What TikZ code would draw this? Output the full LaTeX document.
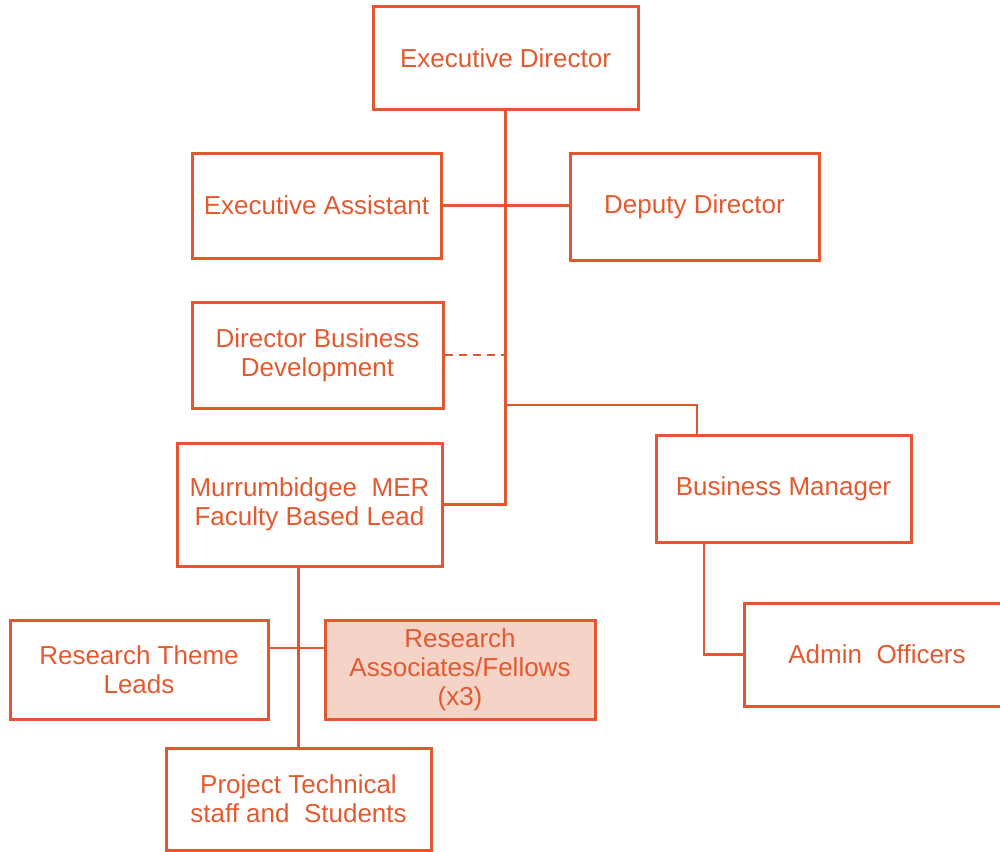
\documentclass[tikz,border=0pt]{standalone}
\usepackage{fontspec}
\setmainfont{Liberation Sans}
\definecolor{org}{HTML}{E4572E}
\definecolor{orgtext}{HTML}{E25A30}
\definecolor{rafill}{HTML}{F6D3C7}
\begin{document}
\begin{tikzpicture}[x=1pt,y=-1pt,
  box/.style={draw=org, line width=3pt, fill=white, text=orgtext, align=center,
    inner sep=0pt, font=\fontsize{26}{29}\selectfont},
  link/.style={draw=org, line width=2.6pt},
  dashlink/.style={link, dash pattern=on 8pt off 6pt}]
\useasboundingbox (0,0) rectangle (1000,851);
\begin{scope}
\clip (0,0) rectangle (1000,851);
\node[box, minimum width=265pt, minimum height=102pt] (ED) at (505.5,58) {Executive Director};
\node[box, minimum width=249pt, minimum height=105pt] (EA) at (316.5,205.5) {Executive Assistant};
\node[box, minimum width=249pt, minimum height=107pt] (DD) at (694.5,206.5) {Deputy Director};
\node[box, minimum width=251pt, minimum height=106pt] (DBD) at (317.5,355) {Director Business\\Development};
\node[box, minimum width=265pt, minimum height=123pt] (M) at (309.5,504.5) {Murrumbidgee\ \ MER\\Faculty Based Lead};
\node[box, minimum width=255pt, minimum height=107pt] (BM) at (783.5,488.5) {Business Manager};
\node[box, minimum width=258pt, minimum height=99pt] (RTL) at (139,669.5) {Research Theme\\Leads};
\node[box, fill=rafill, minimum width=270pt, minimum height=99pt] (RA) at (460,669.5) {Research\\Associates/Fellows\\(x3)};
\node[box, minimum width=265pt, minimum height=102pt] (PT) at (298.5,799) {Project Technical\\staff and\ \ Students};
\node[box, minimum width=266pt, minimum height=103pt] (AO) at (877,654.5) {Admin\ \ Officers};
\coordinate (y405) at (0,405);
\coordinate (y648) at (0,648);
\draw[link, line width=3pt] (ED.south) |- (M.east);
\draw[link] (EA.east) -- (EA.east -| DD.west);
\draw[dashlink] (DBD.east) -- (DBD.east -| ED.south);
\draw[link] (ED.south |- y405) -| ([xshift=-86.5pt]BM.north);
\draw[link] ([xshift=-79.5pt]BM.south) |- (AO.west);
\draw[link] (M.south -| PT.north) -- (PT.north);
\draw[link] (RTL.east |- y648) -- (RA.west |- y648);
\end{scope}
\end{tikzpicture}
\end{document}
